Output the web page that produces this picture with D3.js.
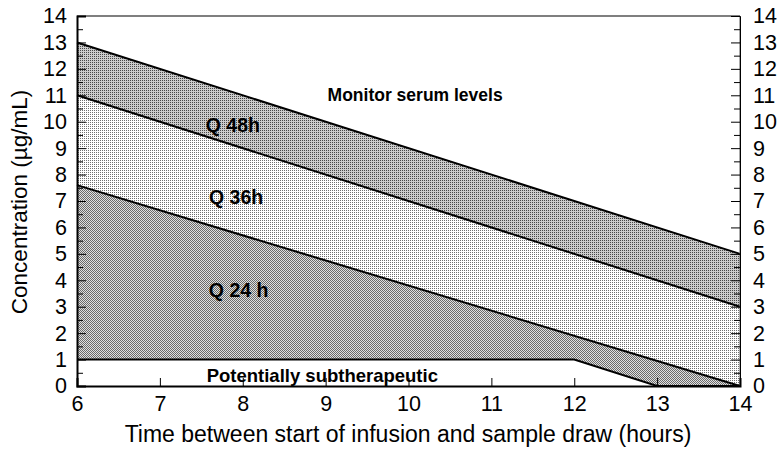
<!DOCTYPE html>
<html><head><meta charset="utf-8">
<script src="https://cdn.jsdelivr.net/npm/d3@7"></script>
<style>body{margin:0;background:#fff}svg{display:block;font-family:Arial,"Liberation Sans",sans-serif}</style>
</head><body><svg id="c" width="780" height="449"></svg>
<script>
const xTicks = [6,7,8,9,10,11,12,13,14];
const yTicks = [0,1,2,3,4,5,6,7,8,9,10,11,12,13,14];
// boundary lines [time, concentration]
const q48Top = [[6,13],[14,5]];
const q36Top = [[6,11],[14,3]];
const q24Top = [[6,7.6],[14,0]];
const subTop = [[6,1],[12,1],[13,0],[14,0]];
const labels = [
  {text:"Monitor serum levels", x:10.08, y:10.8, size:17.5},
  {text:"Q 48h", x:7.88, y:9.6, size:19.5},
  {text:"Q 36h", x:7.92, y:6.9, size:19.5},
  {text:"Q 24 h", x:7.95, y:3.37, size:19.5},
  {text:"Potentially subtherapeutic", x:8.96, y:0.15, size:18.5}
];

const svg = d3.select("#c");
const L=77,R=740,T=16,B=386;
const x = d3.scaleLinear().domain([6,14]).range([L,R]);
const y = d3.scaleLinear().domain([0,14]).range([B,T]);

const defs = svg.append("defs");
function pat(id, bg, dots, dark){
  const p = defs.append("pattern").attr("id",id).attr("width",2).attr("height",2).attr("patternUnits","userSpaceOnUse");
  p.append("rect").attr("width",2).attr("height",2).attr("fill",bg);
  dots.forEach(d=>p.append("rect").attr("x",d[0]).attr("y",d[1]).attr("width",1).attr("height",1).attr("fill",dark));
}
pat("p48","#cccccc",[[0,0]],"#484848");
pat("p36","#ffffff",[[0,0]],"#707070");
pat("p24","#e0e0e0",[[0,0],[1,1]],"#6a6a6a");

function interp(line, t){
  for(let i=0;i<line.length-1;i++){
    const a=line[i],b=line[i+1];
    if(t>=a[0]&&t<=b[0]) return a[1]+(b[1]-a[1])*(t-a[0])/(b[0]-a[0]);
  }
  return line[line.length-1][1];
}
const ts = [6,12,13,14];
function band(upper, lower, fill){
  const data = ts.map(t=>({t, hi:interp(upper,t), lo:interp(lower,t)}));
  svg.append("path")
    .attr("d", d3.area().x(d=>x(d.t)).y0(d=>y(d.lo)).y1(d=>y(d.hi))(data))
    .attr("fill", fill).attr("stroke","none");
}
band(q48Top,q36Top,"url(#p48)");
band(q36Top,q24Top,"url(#p36)");
band(q24Top,subTop,"url(#p24)");

const line = d3.line().x(d=>x(d[0])).y(d=>y(d[1]));
[q48Top,q36Top,q24Top,subTop].forEach(l=>{
  svg.append("path").attr("d",line(l)).attr("fill","none").attr("stroke","#000").attr("stroke-width",2);
});

// frame
svg.append("line").attr("x1",L).attr("x2",R).attr("y1",T).attr("y2",T).attr("stroke","#555").attr("stroke-width",1.5);
svg.append("line").attr("x1",R).attr("x2",R).attr("y1",T).attr("y2",B).attr("stroke","#555").attr("stroke-width",1);

const halfTicks = d3.range(0.5,14,1);
const yLeft = d3.axisLeft(y).tickValues(yTicks).tickSize(-9).tickPadding(10);
const yRight = d3.axisRight(y).tickValues(yTicks).tickSize(-9).tickPadding(13);
const gL = svg.append("g").attr("transform",`translate(${L},0)`).call(yLeft);
const gR = svg.append("g").attr("transform",`translate(${R},0)`).call(yRight);
[gL,gR].forEach((g,i)=>{
  g.select(".domain").attr("stroke","#000").attr("stroke-width",i==0?2:1);
  g.selectAll("text").attr("font-size",21.5).attr("fill","#000");
  g.selectAll(".tick line").attr("stroke","#000");
});
svg.append("g").attr("transform",`translate(${L},0)`).call(d3.axisLeft(y).tickValues(halfTicks).tickSize(-6).tickFormat(""))
  .call(g=>{g.select(".domain").remove();g.selectAll("line").attr("stroke","#000");});
svg.append("g").attr("transform",`translate(${R},0)`).call(d3.axisRight(y).tickValues(halfTicks).tickSize(-6).tickFormat(""))
  .call(g=>{g.select(".domain").remove();g.selectAll("line").attr("stroke","#000");});

const gB = svg.append("g").attr("transform",`translate(0,${B})`).call(d3.axisBottom(x).tickValues(xTicks).tickSize(-8).tickPadding(10));
gB.select(".domain").attr("stroke","#000").attr("stroke-width",2);
gB.selectAll("text").attr("font-size",21.5).attr("fill","#000");
gB.selectAll(".tick line").attr("stroke","#000");

svg.append("text").attr("x",408).attr("y",442).attr("text-anchor","middle").attr("font-size",23).attr("fill","#000")
  .text("Time between start of infusion and sample draw (hours)");
svg.append("text").attr("transform",`translate(27,202) rotate(-90)`).attr("text-anchor","middle").attr("font-size",22.5).attr("fill","#000")
  .text("Concentration (µg/mL)");

labels.forEach(d=>{
  svg.append("text").attr("x",x(d.x)).attr("y",y(d.y)).attr("text-anchor","middle").attr("font-size",d.size)
    .attr("font-weight","bold").attr("fill","#000").text(d.text);
});
</script></body></html>
